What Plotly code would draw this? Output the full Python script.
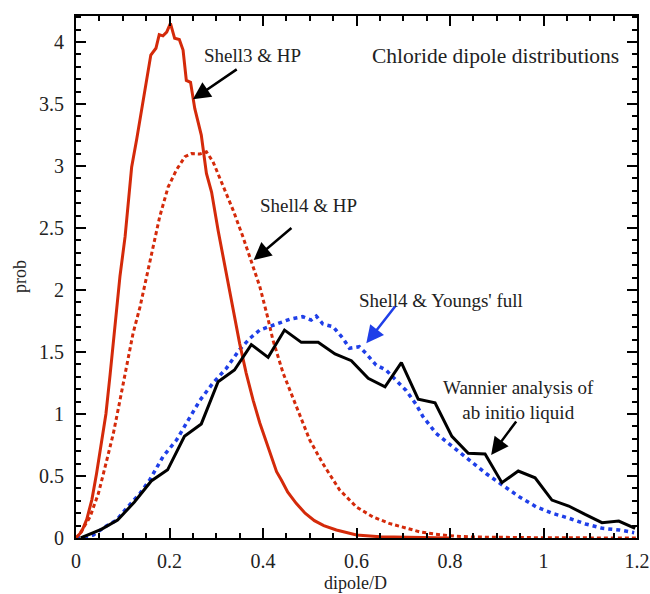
import plotly.graph_objects as go

# Shell3 & HP (red solid)
shell3_x = [0, 0.012, 0.023, 0.034, 0.044, 0.055, 0.064, 0.073, 0.08, 0.087, 0.094, 0.105, 0.119, 0.130,
            0.140, 0.154, 0.160, 0.171, 0.178, 0.186, 0.194, 0.202, 0.211, 0.221, 0.229, 0.236, 0.245,
            0.254, 0.268, 0.279, 0.290, 0.304, 0.320, 0.335, 0.350, 0.364, 0.379, 0.393, 0.407, 0.418,
            0.429, 0.439, 0.453, 0.471, 0.49, 0.51, 0.53, 0.557, 0.6, 0.65, 0.7, 0.75, 0.8]
shell3_y = [0, 0.05, 0.15, 0.31, 0.52, 0.79, 1.0, 1.32, 1.6, 1.88, 2.11, 2.43, 2.99, 3.22,
            3.45, 3.76, 3.895, 3.95, 4.06, 4.05, 4.08, 4.15, 4.03, 4.02, 3.935, 3.69, 3.675,
            3.465, 3.25, 2.94, 2.79, 2.48, 2.17, 1.85, 1.57, 1.33, 1.11, 0.93, 0.77, 0.656,
            0.535, 0.47, 0.37, 0.28, 0.2, 0.14, 0.1, 0.065, 0.024, 0.01, 0.005, 0.002, 0.0]

# Shell4 & HP (red dotted)
shell4hp_x = [0, 0.009, 0.03, 0.048, 0.066, 0.08, 0.094, 0.108, 0.122, 0.137, 0.158, 0.179, 0.197,
              0.215, 0.233, 0.247, 0.265, 0.279, 0.293, 0.315, 0.336, 0.357, 0.372, 0.393, 0.41,
              0.421, 0.443, 0.471, 0.5, 0.528, 0.564, 0.6, 0.635, 0.67, 0.706, 0.735, 0.77, 0.81,
              0.85, 0.9, 1.0, 1.1, 1.2]
shell4hp_y = [0, 0.04, 0.17, 0.36, 0.63, 0.845, 1.11, 1.38, 1.65, 1.865, 2.215, 2.59, 2.83,
              2.97, 3.075, 3.10, 3.097, 3.115, 3.035, 2.83, 2.645, 2.43, 2.26, 2.03, 1.78,
              1.6, 1.33, 1.06, 0.79, 0.60, 0.387, 0.25, 0.17, 0.118, 0.078, 0.05, 0.03, 0.015,
              0.008, 0.004, 0.002, 0.001, 0.0]

# Shell4 & Youngs' full (blue dotted)
young_x = [0, 0.016, 0.037, 0.062, 0.087, 0.108, 0.137, 0.158, 0.186, 0.215, 0.24, 0.265, 0.293,
           0.322, 0.35, 0.372, 0.393, 0.421, 0.457, 0.485, 0.503, 0.514, 0.528, 0.55, 0.571,
           0.585, 0.606, 0.62, 0.642, 0.663, 0.685, 0.706, 0.727, 0.742, 0.77, 0.806, 0.841,
           0.877, 0.912, 0.948, 0.984, 1.019, 1.055, 1.09, 1.126, 1.162, 1.194]
young_y = [0, 0.005, 0.024, 0.09, 0.145, 0.24, 0.36, 0.47, 0.656, 0.79, 0.95, 1.11, 1.25,
           1.37, 1.52, 1.61, 1.677, 1.718, 1.764, 1.785, 1.758, 1.79, 1.726, 1.704, 1.61,
           1.53, 1.543, 1.49, 1.395, 1.355, 1.274, 1.19, 1.08, 0.98, 0.845, 0.736, 0.63,
           0.52, 0.427, 0.333, 0.252, 0.199, 0.159, 0.113, 0.078, 0.065, 0.043]

# Wannier analysis of ab initio liquid (black solid)
wannier_x = [0.01, 0.054, 0.089, 0.125, 0.161, 0.196, 0.232, 0.268, 0.304, 0.339, 0.375, 0.411,
             0.446, 0.482, 0.518, 0.554, 0.589, 0.625, 0.661, 0.696, 0.732, 0.768, 0.804, 0.839,
             0.875, 0.911, 0.946, 0.982, 1.018, 1.054, 1.089, 1.125, 1.161, 1.196]
wannier_y = [0.0, 0.07, 0.145, 0.29, 0.46, 0.55, 0.82, 0.92, 1.26, 1.355, 1.56, 1.457,
             1.677, 1.578, 1.578, 1.484, 1.43, 1.288, 1.22, 1.414, 1.12, 1.09, 0.82, 0.683,
             0.677, 0.446, 0.54, 0.486, 0.306, 0.258, 0.19, 0.124, 0.137, 0.078]

x_ticks = [0, 0.2, 0.4, 0.6, 0.8, 1, 1.2]
x_ticktext = ["0", "0.2", "0.4", "0.6", "0.8", "1", "1.2"]
y_ticks = [0, 0.5, 1, 1.5, 2, 2.5, 3, 3.5, 4]
y_ticktext = ["0", "0.5", "1", "1.5", "2", "2.5", "3", "3.5", "4"]

RED = "#d42a0a"
BLUE = "#1f3fe8"
FONT = "'Liberation Serif', 'Times New Roman', Times, serif"
TXT_COLOR = "#222"

fig = go.Figure()
fig.add_trace(go.Scatter(x=shell4hp_x, y=shell4hp_y, mode="lines",
                         line=dict(color=RED, width=3, dash="4px,3px")))
fig.add_trace(go.Scatter(x=young_x, y=young_y, mode="lines",
                         line=dict(color=BLUE, width=3.5, dash="4px,4px")))
fig.add_trace(go.Scatter(x=shell3_x, y=shell3_y, mode="lines",
                         line=dict(color=RED, width=3)))
fig.add_trace(go.Scatter(x=wannier_x, y=wannier_y, mode="lines",
                         line=dict(color="black", width=3)))

axis_common = dict(showline=True, linecolor="black", linewidth=2, mirror="allticks",
                   ticks="inside", ticklen=10, tickwidth=1.5, tickcolor="black",
                   showgrid=False, zeroline=False, automargin=False,
                   tickfont=dict(family=FONT, size=20, color=TXT_COLOR))

fig.update_xaxes(range=[0, 1.2], tickvals=x_ticks, ticktext=x_ticktext,
                 minor=dict(dtick=0.05, ticks="inside", ticklen=5, tickwidth=1.5, tickcolor="black"),
                 ticklabelstandoff=4, **axis_common)
fig.update_yaxes(range=[0, 4.21], tickvals=y_ticks, ticktext=y_ticktext,
                 minor=dict(dtick=0.1, ticks="inside", ticklen=5, tickwidth=1.5, tickcolor="black"),
                 ticklabelstandoff=6, **axis_common)

txt = dict(family=FONT, size=19, color=TXT_COLOR)
annotations = [
    dict(x=0.499, y=-0.0862, text="dipole/D", showarrow=False, xref="paper", yref="paper",
         xanchor="center", yanchor="middle",
         font=dict(family=FONT, size=18, color=TXT_COLOR)),
    dict(x=-0.0998, y=0.5, text="prob", showarrow=False, xref="paper", yref="paper",
         xanchor="center", yanchor="middle",
         textangle=-90, font=dict(family=FONT, size=18, color=TXT_COLOR)),
    dict(x=1.166, y=3.887, text="Chloride dipole distributions", showarrow=False,
         xanchor="right", yanchor="middle", font=dict(family=FONT, size=21.5, color=TXT_COLOR)),
    dict(x=0.377, y=3.895, text="Shell3 & HP", showarrow=False, font=txt),
    dict(x=0.4975, y=2.685, text="Shell4 & HP", showarrow=False, font=txt),
    dict(x=0.7805, y=1.919, text="Shell4 & Youngs' full", showarrow=False, font=txt),
    dict(x=0.946, y=1.113, text="Wannier analysis of<br>ab initio liquid", showarrow=False,
         font=txt),
]
arrows = [
    (0.250, 3.538, 0.347, 3.788, "black"),
    (0.380, 2.242, 0.464, 2.51, "black"),
    (0.621, 1.57, 0.685, 1.879, BLUE),
    (0.888, 0.669, 0.944, 0.952, "black"),
]
for tx, ty, sx, sy, c in arrows:
    annotations.append(dict(x=tx, y=ty, ax=sx, ay=sy, xref="x", yref="y", axref="x", ayref="y",
                            text="", showarrow=True, arrowhead=2, arrowsize=1.4, arrowwidth=2.5,
                            arrowcolor=c, standoff=0))

fig.update_layout(width=650, height=594, margin=dict(l=76, r=13, t=16, b=56),
                  plot_bgcolor="white", paper_bgcolor="white", showlegend=False,
                  annotations=annotations)

# remove the default page margin so the 650x594 figure fills the window exactly
fig.write_html("out.html", config={"displayModeBar": False},
               post_script="document.body.style.margin='0';document.body.style.overflow='hidden';")
